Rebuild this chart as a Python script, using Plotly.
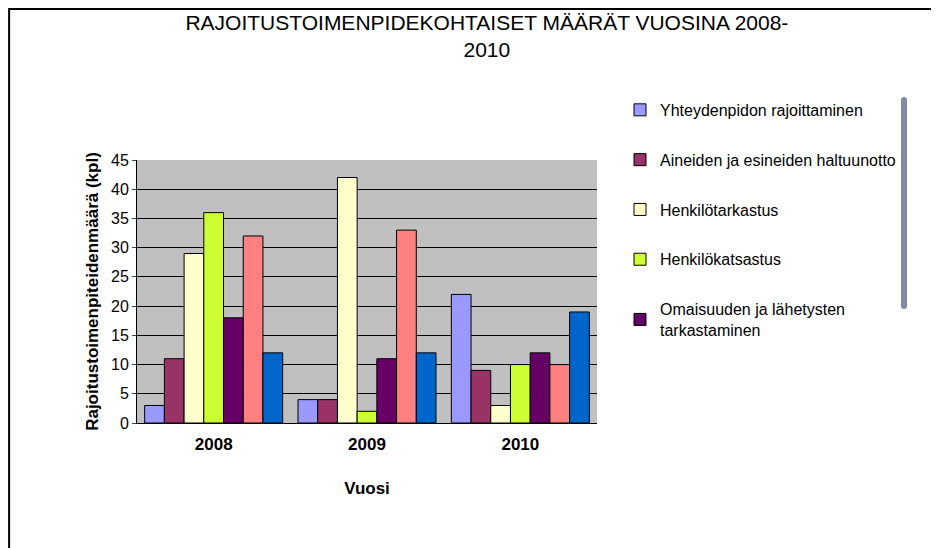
import plotly.graph_objects as go

years = ["2008", "2009", "2010"]
series = ["Yhteydenpidon rajoittaminen", "Aineiden ja esineiden haltuunotto", "Henkilötarkastus",
          "Henkilökatsastus", "Omaisuuden ja lähetysten<br>tarkastaminen", "Kiinnipitäminen",
          "Liikkumisvapauden rajoittaminen"]
values = [[3, 4, 22], [11, 4, 9], [29, 42, 3], [36, 2, 10], [18, 11, 12], [32, 33, 10], [12, 12, 19]]
colors = ["#9999FF", "#993366", "#FFFFCC", "#CCFF33", "#660066", "#FF8080", "#0066CC"]

fig = go.Figure()
for i, (n, v, c) in enumerate(zip(series, values, colors)):
    fig.add_trace(go.Bar(x=years, y=v, name=n, marker=dict(color=c, line=dict(color="black", width=1)),
                         legendgroup=str(i)))
fig.update_layout(
    width=939, height=548, paper_bgcolor="white", plot_bgcolor="#C0C0C0",
    font=dict(family="Arial", color="black", size=16),
    margin=dict(l=129, r=350, t=152, b=133, autoexpand=False),
    bargap=0.1, bargroupgap=0,
    title=dict(text="RAJOITUSTOIMENPIDEKOHTAISET MÄÄRÄT VUOSINA 2008-<br>2010", x=0.51, xanchor="center",
               y=0.96, yanchor="top", font=dict(size=21)),
    xaxis=dict(title=dict(text="<b>Vuosi</b>", font=dict(size=17), standoff=28), tickfont=dict(size=17),
               ticklabelstandoff=6, showline=True, linecolor="black", ticks="", tickprefix="<b>", ticksuffix="</b>"),
    yaxis=dict(title=dict(text="<b>Rajoitustoimenpiteidenmäärä (kpl)</b>", font=dict(size=17), standoff=8),
               range=[0, 45], dtick=5, gridcolor="black", showline=True, linecolor="black",
               ticks="outside", ticklen=4, tickfont=dict(size=16), zeroline=False),
    legend=dict(x=1.05, y=1.255, xanchor="left", yanchor="top", tracegroupgap=26, font=dict(size=16),
                itemwidth=30),
    showlegend=True,
)
fig.add_shape(type="rect", xref="paper", yref="paper", x0=-0.278, x1=1.758, y0=-0.502, y1=1.574,
              line=dict(color="black", width=2))
fig.write_html("out.html")
